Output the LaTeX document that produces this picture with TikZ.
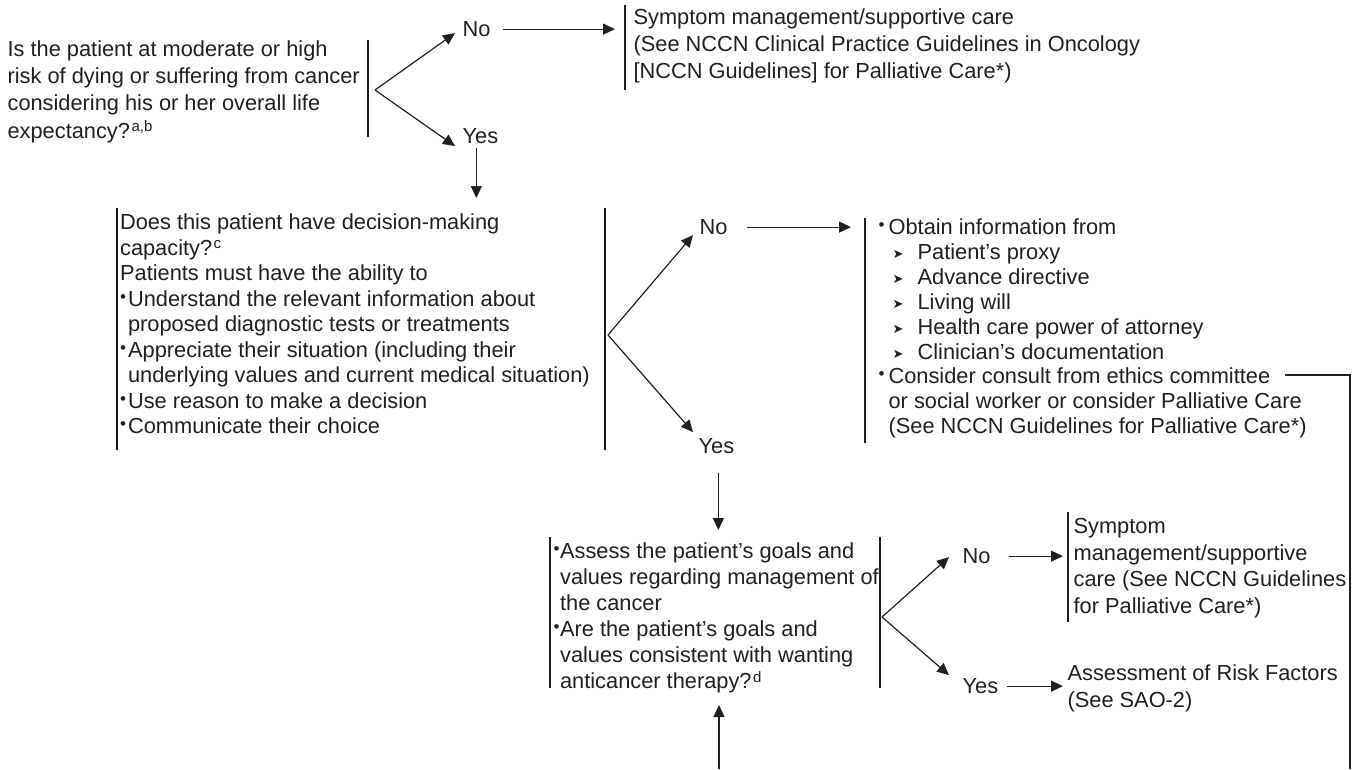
\documentclass[tikz,border=0pt]{standalone}
\usepackage{fontspec}
\setmainfont{Liberation Sans}
\newfontfamily\djv{DejaVu Sans}
\usetikzlibrary{arrows.meta,calc}
\definecolor{ink}{RGB}{35,31,32}
\newcommand\bul[1]{\makebox[#1][l]{\raisebox{4pt}{\fontsize{17}{17}\selectfont •}}}
\newcommand\subb{\hspace*{14pt}\makebox[25pt][l]{\raisebox{1pt}{\djv\fontsize{13}{13}\selectfont ➤}}}
\newcommand\sups[1]{\kern1.5pt\raisebox{6.5pt}{\fontsize{15}{15}\selectfont #1}}
\newcommand\txtlines[2]{\fontsize{21.8}{#1}\selectfont\begin{tabular}[t]{@{}l@{}}#2\end{tabular}}
\begin{document}
\begin{tikzpicture}[x=1pt,y=-1pt,line width=1.2pt,color=ink,
  txt/.style={anchor=base west,inner sep=0pt},
  lab/.style={anchor=base west,inner sep=0pt,font=\fontsize{21.8}{26}\selectfont},
  arr/.style={-{Triangle[length=12pt,width=11pt]}},
  bar/.style={line width=1.3pt}]
\useasboundingbox (0,0) rectangle (1358,769);

% ---- first question
\node[txt] (q1) at (7,56.5) {\txtlines{27.2}{Is the patient at moderate or high\\risk of dying or suffering from cancer\\considering his or her overall life\\expectancy?\sups{a,b}}};
\coordinate (q1b1) at (368,40); \coordinate (q1b2) at (368,137);
\draw[bar] (q1b1) -- (q1b2);
\coordinate (v1) at (375,90);
\node[lab] (no1) at (462,36.5) {No};
\node[lab] (yes1) at (462,143.5) {Yes};
\draw[arr] (v1) -- ($(no1.west)+(-7,4)$);
\draw[arr] (v1) -- ($(yes1.west)+(-7,10)$);

% ---- top symptom box
\node[txt] (sym1) at (633,24.5) {\txtlines{27}{Symptom management/supportive care\\(See NCCN Clinical Practice Guidelines in Oncology\\{[}NCCN Guidelines{]} for Palliative Care*)}};
\coordinate (s1b1) at (625,5); \coordinate (s1b2) at (625,90);
\draw[bar] (s1b1) -- (s1b2);
\draw[arr] ([xshift=12pt]no1.east) -- ($(no1.east -| s1b1)+(-10,0)$);

% ---- decision-making capacity box
\node[txt] (mid) at (119.5,229.5) {\txtlines{25.5}{Does this patient have decision-making\\capacity?\sups{c}\\Patients must have the ability to\\\bul{8pt}Understand the relevant information about\\\hspace*{8pt}proposed diagnostic tests or treatments\\\bul{8pt}Appreciate their situation (including their\\\hspace*{8pt}underlying values and current medical situation)\\\bul{8pt}Use reason to make a decision\\\bul{8pt}Communicate their choice}};
\coordinate (mbL1) at (117,208); \coordinate (mbL2) at (117,450);
\coordinate (mbR1) at (605,208); \coordinate (mbR2) at (605,450);
\draw[bar] (mbL1) -- (mbL2);
\draw[bar] (mbR1) -- (mbR2);
\draw[arr] ($(yes1.south)+(-4,4)$) -- ($(yes1.south |- mbL1)+(-4,-10)$);

\coordinate (v2) at (608,335);
\node[lab] (no2) at (699,234.5) {No};
\node[lab] (yes2) at (698,453.5) {Yes};
\draw[arr] (v2) -- ($(no2.west)+(-6,8)$);
\draw[arr] (v2) -- ($(yes2.west)+(-5,-14)$);

% ---- right information box
\node[txt] (rbox) at (878,234.5) {\txtlines{24.9}{\bul{10pt}Obtain information from\\\subb Patient’s proxy\\\subb Advance directive\\\subb Living will\\\subb Health care power of attorney\\\subb Clinician’s documentation\\\bul{10pt}Consider consult from ethics committee\\\hspace*{10pt}or social worker or consider Palliative Care\\\hspace*{10pt}(See NCCN Guidelines for Palliative Care*)}};
\coordinate (rb1) at (865,218); \coordinate (rb2) at (865,443);
\draw[bar] (rb1) -- (rb2);
\draw[arr] ([xshift=19pt]no2.east) -- ($(no2.east -| rb1)+(-14,0)$);
\coordinate (c1) at (1285,375); \coordinate (c2) at (1350,375); \coordinate (c3) at (1350,769);
\draw (c1) -- (c2) -- (c3);

% ---- goals assessment box
\node[txt] (asm) at (553,558.5) {\txtlines{26}{\bul{6.5pt}Assess the patient’s goals and\\\hspace*{6.5pt}values regarding management of\\\hspace*{6.5pt}the cancer\\\bul{6.5pt}Are the patient’s goals and\\\hspace*{6.5pt}values consistent with wanting\\\hspace*{6.5pt}anticancer therapy?\sups{d}}};
\coordinate (abL1) at (550,537); \coordinate (abL2) at (550,688);
\coordinate (abR1) at (880,537); \coordinate (abR2) at (880,688);
\draw[bar] (abL1) -- (abL2);
\draw[bar] (abR1) -- (abR2);
\draw[arr] ($(yes2.south)+(2,19)$) -- ($(yes2.south |- abL1)+(2,-7)$);
\coordinate (bot) at (719,769);
\draw[arr] (bot) -- ($(bot |- abL2)+(0,17)$);

\coordinate (v3) at (882,617);
\node[lab] (no3) at (962,563.5) {No};
\node[lab] (yes3) at (962,693.5) {Yes};
\draw[arr] (v3) -- ($(no3.west)+(-13,1)$);
\draw[arr] (v3) -- ($(yes3.west)+(-13,-11)$);

% ---- lower symptom box and risk factors
\node[txt] (sym2) at (1073,533.5) {\txtlines{26.7}{Symptom\\management/supportive\\care (See NCCN Guidelines\\for Palliative Care*)}};
\coordinate (s2b1) at (1068,512); \coordinate (s2b2) at (1068,622);
\draw[bar] (s2b1) -- (s2b2);
\draw[arr] ([xshift=18pt]no3.east) -- ($(no3.east -| s2b1)+(-5,0)$);

\node[txt] (risk) at (1067,680.5) {\txtlines{26.5}{Assessment of Risk Factors\\(See SAO-2)}};
\draw[arr] ([xshift=8pt]yes3.east) -- ($(yes3.east -| risk.west)+(-4,0)$);
\end{tikzpicture}
\end{document}
